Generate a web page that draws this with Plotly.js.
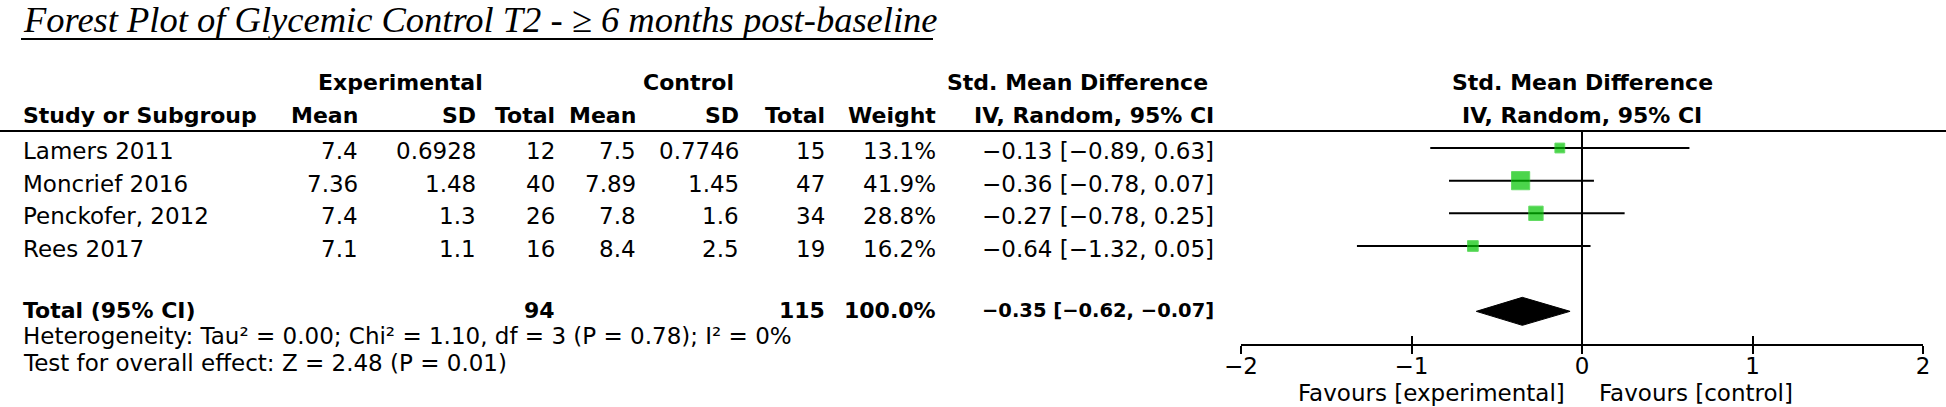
<!DOCTYPE html>
<html>
<head>
<meta charset="utf-8">
<script src="https://cdn.plot.ly/plotly-3.0.1.min.js"></script>
<style>
  html, body { margin: 0; padding: 0; background: #fff; }
  #chart { width: 1946px; height: 407px; }
</style>
</head>
<body>
<div id="chart"></div>
<script>
// study data
var studies = ['Lamers 2011', 'Moncrief 2016', 'Penckofer, 2012', 'Rees 2017'];
var expMean = [7.4, 7.36, 7.4, 7.1];
var expSD = [0.6928, 1.48, 1.3, 1.1];
var expTotal = [12, 40, 26, 16];
var ctlMean = [7.5, 7.89, 7.8, 8.4];
var ctlSD = [0.7746, 1.45, 1.6, 2.5];
var ctlTotal = [15, 47, 34, 19];
var weights = [13.1, 41.9, 28.8, 16.2];
var smd = [-0.13, -0.36, -0.27, -0.64];
var ciLow = [-0.89, -0.78, -0.78, -1.32];
var ciHigh = [0.63, 0.07, 0.25, 0.05];

// pooled result
var totalLabel = 'Total (95% CI)';
var totalExp = 94;
var totalCtl = 115;
var totalWeight = 100.0;
var totalSmd = -0.35;
var totalLow = -0.62;
var totalHigh = -0.07;

var tickVals = [-2, -1, 0, 1, 2];
var hetText = 'Heterogeneity: Tau² = 0.00; Chi² = 1.10, df = 3 (P = 0.78); I² = 0%';
var testText = 'Test for overall effect: Z = 2.48 (P = 0.01)';

var W = 1946, H = 407;
var ROW0 = 148, AXIS_Y = 344;
var rowStep = (AXIS_Y - ROW0) / 6;
var totalRow = 5;

function px(x) { return x / W; }
function py(y) { return 1 - y / H; }
function rowPx(r) { return ROW0 + r * rowStep; }

function fmt(v) {
  return (v < 0 ? '\u2212' : '') + Math.abs(v).toFixed(2);
}
function ciText(m, lo, hi) {
  return fmt(m) + ' [' + fmt(lo) + ', ' + fmt(hi) + ']';
}

var FONT = 'DejaVu Sans, sans-serif';
var FS = 23, FSB = 22;
var annotations = [];

function txt(x, y, s, anchor, bold, size) {
  annotations.push({
    xref: 'paper', yref: 'paper',
    x: px(x), y: py(y),
    text: bold ? '<b>' + s + '</b>' : s,
    xanchor: anchor, yanchor: 'middle',
    showarrow: false,
    font: {family: FONT, size: size || (bold ? FSB : FS), color: '#000'}
  });
}

// columns: right edges in pixels
var cols = {exM: 360, exSD: 478, exN: 557, ctM: 638, ctSD: 741, ctN: 827, wt: 938, ci: 1216};

// title
annotations.push({
  xref: 'paper', yref: 'paper', x: px(21), y: py(20),
  text: '<i>Forest Plot of Glycemic Control T2 - \u2265 6 months post-baseline</i>',
  xanchor: 'left', yanchor: 'middle', showarrow: false,
  font: {family: 'Liberation Serif, serif', size: 36.5, color: '#000'}
});

// headers
txt(400, 83, 'Experimental', 'center', true);
txt(688, 83, 'Control', 'center', true);
txt(1210, 83, 'Std. Mean Difference', 'right', true);
txt(1582, 83, 'Std. Mean Difference', 'center', true);
txt(21, 115, 'Study or Subgroup', 'left', true);
txt(cols.exM, 115, 'Mean', 'right', true);
txt(cols.exSD, 115, 'SD', 'right', true);
txt(cols.exN, 115, 'Total', 'right', true);
txt(cols.ctM, 115, 'Mean', 'right', true);
txt(cols.ctSD, 115, 'SD', 'right', true);
txt(cols.ctN, 115, 'Total', 'right', true);
txt(cols.wt, 115, 'Weight', 'right', true);
txt(cols.ci, 115, 'IV, Random, 95% CI', 'right', true);
txt(1582, 115, 'IV, Random, 95% CI', 'center', true);

// study rows
for (var i = 0; i < studies.length; i++) {
  var y = rowPx(i) + 3;
  txt(21, y, studies[i], 'left');
  txt(cols.exM, y, String(expMean[i]), 'right');
  txt(cols.exSD, y, String(expSD[i]), 'right');
  txt(cols.exN, y, String(expTotal[i]), 'right');
  txt(cols.ctM, y, String(ctlMean[i]), 'right');
  txt(cols.ctSD, y, String(ctlSD[i]), 'right');
  txt(cols.ctN, y, String(ctlTotal[i]), 'right');
  txt(cols.wt, y, weights[i].toFixed(1) + '%', 'right');
  txt(cols.ci, y, ciText(smd[i], ciLow[i], ciHigh[i]), 'right');
}

// total row
var ty = rowPx(totalRow) - 1;
txt(21, ty, totalLabel, 'left', true);
txt(cols.exN, ty, String(totalExp), 'right', true);
txt(cols.ctN, ty, String(totalCtl), 'right', true);
txt(cols.wt, ty, totalWeight.toFixed(1) + '%', 'right', true);
txt(cols.ci, ty, ciText(totalSmd, totalLow, totalHigh), 'right', true, 19.5);

txt(21, 336, hetText, 'left');
txt(21, 363, testText, 'left');

txt(1567, 393, 'Favours [experimental]', 'right');
txt(1597, 393, 'Favours [control]', 'left');

var traces = [];
// confidence interval lines
for (var i = 0; i < studies.length; i++) {
  traces.push({
    x: [ciLow[i], ciHigh[i]], y: [i, i],
    type: 'scatter', mode: 'lines',
    line: {color: '#000', width: 2},
    hoverinfo: 'skip', showlegend: false
  });
}
// weighted squares
traces.push({
  x: smd, y: studies.map(function(s, i) { return i; }),
  type: 'scatter', mode: 'markers',
  marker: {
    symbol: 'square', color: '#00c400',
    size: weights.map(function(w) { return 6 + 0.29 * w; }),
    line: {color: '#22cc22', width: 1}
  },
  text: studies, showlegend: false
});
// pooled diamond
var dh = 14 / rowStep;
traces.push({
  x: [totalLow, totalSmd, totalHigh, totalSmd, totalLow],
  y: [totalRow, totalRow - dh, totalRow, totalRow + dh, totalRow],
  type: 'scatter', mode: 'lines', fill: 'toself',
  fillcolor: '#000', line: {color: '#000', width: 1},
  hoverinfo: 'skip', showlegend: false
});
// invisible trace on the overlay axis so it draws the inner tick halves
traces.push({
  x: [-2, 2], y: [0, 0], xaxis: 'x2', yaxis: 'y',
  type: 'scatter', mode: 'markers', marker: {opacity: 0},
  hoverinfo: 'skip', showlegend: false
});

var xDom = [px(1241), px(1923)];
var yTop = -ROW0 / rowStep;

var layout = {
  width: W, height: H,
  margin: {l: 0, r: 0, t: 0, b: 0},
  paper_bgcolor: '#fff', plot_bgcolor: 'rgba(0,0,0,0)',
  showlegend: false,
  xaxis: {
    domain: xDom, range: [-2, 2], anchor: 'y',
    tickvals: tickVals, ticks: 'outside', ticklen: 8, tickwidth: 2, tickcolor: '#000',
    showline: true, linecolor: '#000', linewidth: 2,
    showgrid: false, zeroline: false, ticklabelstandoff: -8,
    tickfont: {family: FONT, size: 23, color: '#000'}
  },
  xaxis2: {
    domain: xDom, range: [-2, 2], anchor: 'y', overlaying: 'x',
    tickvals: tickVals, ticks: 'inside', ticklen: 8, tickwidth: 2, tickcolor: '#000',
    showticklabels: false, showline: false, showgrid: false, zeroline: false
  },
  yaxis: {
    domain: [py(AXIS_Y), 1], range: [6, yTop],
    visible: false, showgrid: false, zeroline: false
  },
  shapes: [
    // title underline
    {type: 'line', xref: 'paper', yref: 'paper', x0: px(21), x1: px(933), y0: py(39), y1: py(39),
     line: {color: '#000', width: 2}},
    // header rule
    {type: 'line', xref: 'paper', yref: 'paper', x0: 0, x1: 1, y0: py(131), y1: py(131),
     line: {color: '#000', width: 2}},
    // line of no effect
    {type: 'line', xref: 'x', yref: 'paper', x0: 0, x1: 0, y0: py(131), y1: py(AXIS_Y),
     line: {color: '#000', width: 2}}
  ],
  annotations: annotations
};

Plotly.newPlot('chart', traces, layout, {staticPlot: true});
</script>
</body>
</html>
